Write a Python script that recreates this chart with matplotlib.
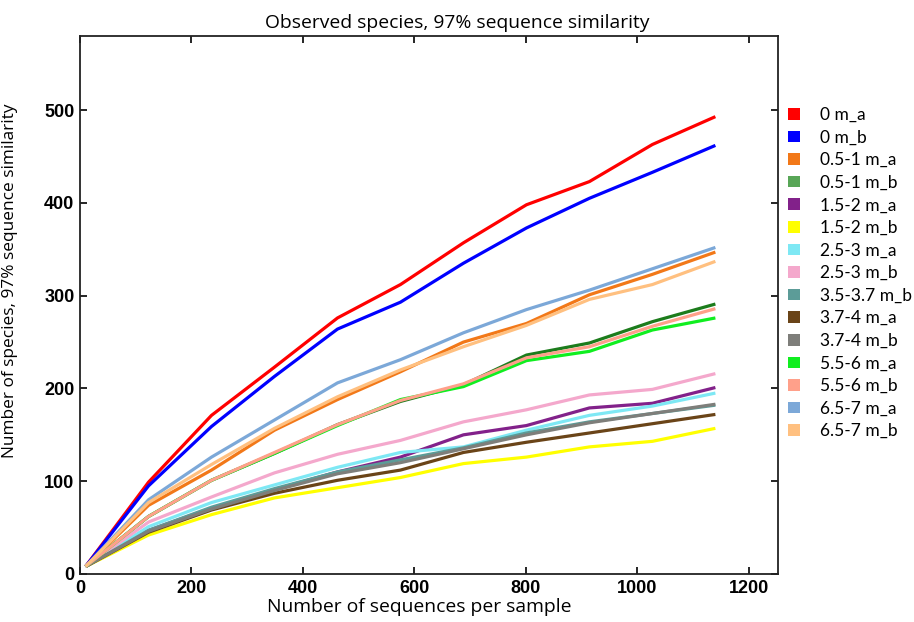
import matplotlib.pyplot as plt
from matplotlib.patches import Patch

# sequences per sample (rarefaction depths)
depths = [10, 123, 236, 349, 462, 575, 688, 801, 914, 1027, 1140]

labels = ['0 m_a', '0 m_b', '0.5-1 m_a', '0.5-1 m_b', '1.5-2 m_a', '1.5-2 m_b',
          '2.5-3 m_a', '2.5-3 m_b', '3.5-3.7 m_b', '3.7-4 m_a', '3.7-4 m_b',
          '5.5-6 m_a', '5.5-6 m_b', '6.5-7 m_a', '6.5-7 m_b']

s_0a = [8, 99, 171, 223, 276, 312, 357, 398, 423, 463, 493]
s_0b = [8, 95, 159, 213, 264, 293, 335, 373, 405, 433, 462]
s_05a = [8, 74, 112, 155, 188, 218, 250, 270, 301, 323, 347]
s_05b = [8, 62, 101, 130, 161, 186, 204, 236, 249, 272, 291]
s_15a = [8, 47, 71, 91, 110, 126, 150, 160, 179, 184, 201]
s_15b = [8, 42, 64, 82, 93, 104, 119, 126, 137, 143, 157]
s_25a = [8, 51, 77, 96, 115, 131, 137, 155, 171, 181, 195]
s_25b = [8, 56, 83, 109, 129, 144, 164, 177, 193, 199, 216]
s_35b = [8, 47, 72, 92, 110, 123, 136, 152, 164, 173, 182]
s_37a = [8, 45, 69, 87, 101, 112, 131, 142, 152, 162, 172]
s_37b = [8, 46, 70, 90, 108, 120, 135, 150, 163, 173, 183]
s_55a = [8, 62, 101, 130, 160, 188, 202, 230, 240, 263, 276]
s_55b = [8, 62, 101, 131, 161, 187, 205, 233, 245, 267, 286]
s_65a = [8, 80, 126, 166, 206, 231, 260, 285, 306, 329, 352]
s_65b = [8, 77, 118, 157, 191, 220, 245, 268, 296, 312, 337]

series = [s_0a, s_0b, s_05a, s_05b, s_15a, s_15b, s_25a, s_25b, s_35b,
          s_37a, s_37b, s_55a, s_55b, s_65a, s_65b]

line_colors = ['#ff0000', '#0000ff', '#f27818', '#1c7c1c', '#82218a', '#ffff00',
               '#7ee8f4', '#f4a8cc', '#5c9c98', '#6a4418', '#7e7e7a', '#10ee20',
               '#ffa08a', '#7ca8d8', '#ffc080']
legend_colors = list(line_colors)
legend_colors[3] = '#58a657'

fig = plt.figure(figsize=(9.14, 6.22), dpi=100)
ax = fig.add_axes([0.0875, 0.0772, 0.7635, 0.865])

for vals, col in zip(series, line_colors):
    ax.plot(depths, vals, color=col, lw=2.3, solid_capstyle='butt')

ax.set_xlim(0, 1252)
ax.set_ylim(0, 580)
ax.set_xticks([0, 200, 400, 600, 800, 1000, 1200])
ax.set_yticks([0, 100, 200, 300, 400, 500])
ax.tick_params(direction='in', top=True, right=True, length=5, width=1.2,
               labelsize=13, pad=4)
for t in ax.get_xticklabels() + ax.get_yticklabels():
    t.set_fontfamily('Liberation Sans')
    t.set_fontweight('bold')
for sp in ax.spines.values():
    sp.set_linewidth(1.3)
    sp.set_color('#222222')

# title sits centred on the figure, not the axes
fig.text(0.5, 0.955, 'Observed species, 97% sequence similarity', fontsize=13.9,
         family='Open Sans', ha='center', va='baseline')
ax.set_xlabel('Number of sequences per sample', fontsize=13.9, family='Open Sans',
              labelpad=1)
ax.xaxis.set_label_coords(0.486, -0.045)
ax.set_ylabel('Number of species, 97% sequence similarity', fontsize=12.4,
              family='Open Sans')
ax.yaxis.set_label_coords(-0.089, 0.545)

handles = [Patch(facecolor=c, edgecolor='none') for c in legend_colors]
ax.legend(handles, labels, loc='upper left', bbox_to_anchor=(1.005, 0.881),
          borderaxespad=0, frameon=False, handlelength=0.66, handleheight=0.66,
          handletextpad=1.15, labelspacing=0.38,
          prop={'family': 'Lato', 'size': 12.5})

fig.savefig('out.png', dpi=100)
